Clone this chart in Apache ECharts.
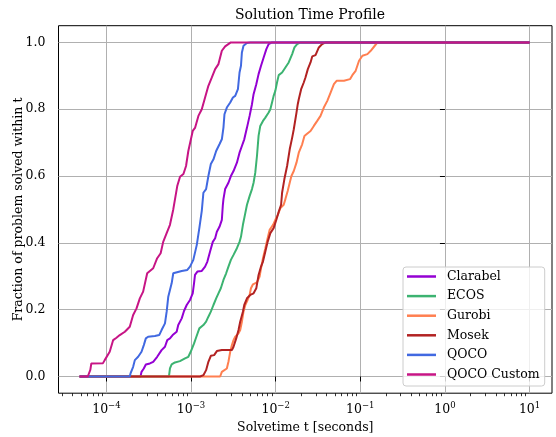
<!DOCTYPE html>
<html>
<head>
<meta charset="utf-8">
<script src="https://cdn.jsdelivr.net/npm/echarts@6/dist/echarts.min.js"></script>
<style>
  html, body { margin: 0; padding: 0; background: #fff; }
  #profile-chart { width: 556px; height: 437px; }
</style>
</head>
<body>
<div id="profile-chart"></div>
<script>
// points are [log10(solvetime in s), fraction solved]
const clarabel = [[-4.317, 0], [-3.597, 0], [-3.585, 0.014], [-3.558, 0.024], [-3.534, 0.036], [-3.486, 0.039], [-3.447, 0.044], [-3.4, 0.059], [-3.348, 0.079], [-3.308, 0.089], [-3.281, 0.109], [-3.249, 0.114], [-3.217, 0.124], [-3.17, 0.134], [-3.151, 0.154], [-3.11, 0.174], [-3.083, 0.196], [-3.051, 0.214], [-3.012, 0.229], [-2.98, 0.249], [-2.964, 0.28], [-2.953, 0.304], [-2.925, 0.314], [-2.873, 0.316], [-2.834, 0.329], [-2.807, 0.344], [-2.775, 0.374], [-2.743, 0.403], [-2.715, 0.414], [-2.695, 0.433], [-2.664, 0.448], [-2.636, 0.469], [-2.624, 0.514], [-2.617, 0.531], [-2.597, 0.561], [-2.558, 0.58], [-2.529, 0.6], [-2.498, 0.615], [-2.458, 0.64], [-2.427, 0.67], [-2.399, 0.69], [-2.371, 0.71], [-2.339, 0.745], [-2.308, 0.78], [-2.28, 0.815], [-2.261, 0.845], [-2.229, 0.875], [-2.202, 0.905], [-2.173, 0.93], [-2.142, 0.955], [-2.11, 0.98], [-2.083, 0.995], [-2.043, 1], [1, 1]];
const ecos = [[-4.317, 0], [-3.261, 0], [-3.249, 0.024], [-3.229, 0.036], [-3.19, 0.042], [-3.131, 0.046], [-3.071, 0.054], [-3.032, 0.059], [-3.004, 0.074], [-2.964, 0.099], [-2.941, 0.116], [-2.902, 0.144], [-2.893, 0.149], [-2.854, 0.154], [-2.822, 0.164], [-2.795, 0.179], [-2.766, 0.194], [-2.735, 0.214], [-2.703, 0.234], [-2.676, 0.249], [-2.648, 0.264], [-2.617, 0.289], [-2.585, 0.309], [-2.558, 0.329], [-2.529, 0.349], [-2.498, 0.364], [-2.458, 0.384], [-2.427, 0.403], [-2.41, 0.418], [-2.387, 0.454], [-2.359, 0.489], [-2.339, 0.514], [-2.308, 0.54], [-2.28, 0.561], [-2.261, 0.58], [-2.241, 0.61], [-2.221, 0.66], [-2.202, 0.72], [-2.182, 0.75], [-2.15, 0.765], [-2.122, 0.775], [-2.083, 0.79], [-2.063, 0.8], [-2.043, 0.82], [-2.024, 0.84], [-2.004, 0.855], [-1.984, 0.88], [-1.964, 0.902], [-1.924, 0.91], [-1.885, 0.925], [-1.846, 0.94], [-1.805, 0.965], [-1.778, 0.985], [-1.746, 0.995], [-1.707, 1], [1, 1]];
const gurobi = [[-4.317, 0], [-2.656, 0], [-2.636, 0.014], [-2.617, 0.019], [-2.577, 0.024], [-2.558, 0.044], [-2.537, 0.074], [-2.517, 0.094], [-2.498, 0.109], [-2.478, 0.119], [-2.439, 0.129], [-2.419, 0.139], [-2.399, 0.164], [-2.38, 0.194], [-2.359, 0.214], [-2.332, 0.229], [-2.308, 0.244], [-2.292, 0.264], [-2.268, 0.276], [-2.221, 0.282], [-2.19, 0.299], [-2.173, 0.324], [-2.15, 0.354], [-2.122, 0.384], [-2.095, 0.414], [-2.071, 0.439], [-2.031, 0.454], [-2.004, 0.469], [-1.976, 0.483], [-1.944, 0.504], [-1.905, 0.514], [-1.885, 0.531], [-1.858, 0.555], [-1.834, 0.58], [-1.814, 0.6], [-1.786, 0.615], [-1.754, 0.64], [-1.727, 0.67], [-1.687, 0.695], [-1.66, 0.72], [-1.636, 0.725], [-1.588, 0.735], [-1.549, 0.75], [-1.509, 0.765], [-1.47, 0.78], [-1.431, 0.805], [-1.39, 0.825], [-1.351, 0.85], [-1.312, 0.875], [-1.28, 0.885], [-1.193, 0.885], [-1.122, 0.89], [-1.094, 0.902], [-1.055, 0.915], [-1.015, 0.945], [-0.975, 0.96], [-0.916, 0.965], [-0.877, 0.975], [-0.829, 0.99], [-0.797, 1], [1, 1]];
const mosek = [[-4.317, 0], [-2.893, 0], [-2.854, 0.004], [-2.822, 0.019], [-2.795, 0.044], [-2.766, 0.062], [-2.727, 0.064], [-2.695, 0.076], [-2.636, 0.079], [-2.517, 0.079], [-2.498, 0.089], [-2.466, 0.114], [-2.439, 0.139], [-2.419, 0.164], [-2.387, 0.194], [-2.371, 0.214], [-2.339, 0.234], [-2.3, 0.244], [-2.261, 0.249], [-2.229, 0.264], [-2.202, 0.304], [-2.173, 0.329], [-2.15, 0.344], [-2.122, 0.374], [-2.095, 0.403], [-2.063, 0.429], [-2.024, 0.444], [-1.992, 0.469], [-1.964, 0.493], [-1.936, 0.514], [-1.924, 0.55], [-1.897, 0.591], [-1.865, 0.63], [-1.834, 0.68], [-1.805, 0.715], [-1.786, 0.74], [-1.754, 0.79], [-1.739, 0.815], [-1.727, 0.83], [-1.699, 0.86], [-1.668, 0.88], [-1.648, 0.895], [-1.62, 0.92], [-1.588, 0.94], [-1.568, 0.958], [-1.529, 0.962], [-1.49, 0.985], [-1.45, 0.995], [-1.41, 1], [1, 1]];
const qoco = [[-4.317, 0], [-3.724, 0], [-3.715, 0.009], [-3.684, 0.029], [-3.664, 0.049], [-3.625, 0.059], [-3.585, 0.074], [-3.558, 0.094], [-3.534, 0.114], [-3.507, 0.119], [-3.427, 0.121], [-3.376, 0.124], [-3.348, 0.139], [-3.308, 0.159], [-3.288, 0.194], [-3.269, 0.239], [-3.249, 0.259], [-3.229, 0.279], [-3.21, 0.309], [-3.19, 0.314], [-3.11, 0.316], [-3.044, 0.319], [-3.012, 0.329], [-2.973, 0.349], [-2.932, 0.394], [-2.902, 0.444], [-2.873, 0.496], [-2.854, 0.55], [-2.822, 0.561], [-2.795, 0.6], [-2.766, 0.636], [-2.735, 0.65], [-2.703, 0.675], [-2.664, 0.695], [-2.636, 0.71], [-2.617, 0.745], [-2.605, 0.785], [-2.577, 0.805], [-2.537, 0.82], [-2.505, 0.835], [-2.478, 0.84], [-2.446, 0.86], [-2.427, 0.91], [-2.41, 0.93], [-2.399, 0.97], [-2.38, 0.99], [-2.34, 0.998], [-2.3, 1], [1, 1]];
const qocoCustom = [[-4.317, 0], [-4.22, 0], [-4.19, 0.02], [-4.178, 0.039], [-4.04, 0.04], [-4.02, 0.049], [-3.961, 0.074], [-3.92, 0.109], [-3.881, 0.116], [-3.842, 0.124], [-3.782, 0.134], [-3.724, 0.149], [-3.684, 0.184], [-3.644, 0.204], [-3.605, 0.234], [-3.566, 0.254], [-3.518, 0.309], [-3.486, 0.316], [-3.447, 0.324], [-3.4, 0.354], [-3.359, 0.369], [-3.329, 0.403], [-3.288, 0.429], [-3.249, 0.454], [-3.21, 0.5], [-3.163, 0.57], [-3.13, 0.598], [-3.09, 0.606], [-3.059, 0.63], [-3.032, 0.675], [-2.98, 0.735], [-2.953, 0.744], [-2.913, 0.78], [-2.873, 0.8], [-2.834, 0.835], [-2.795, 0.87], [-2.754, 0.895], [-2.715, 0.92], [-2.676, 0.935], [-2.636, 0.975], [-2.597, 0.988], [-2.53, 1], [1, 1]];

const solverNames = ["Clarabel", "ECOS", "Gurobi", "Mosek", "QOCO", "QOCO Custom"];
const solverColors = ["#9400d3", "#3cb371", "#ff7f50", "#b22222", "#4169e1", "#c71585"];
const solverData = [clarabel, ecos, gurobi, mosek, qoco, qocoCustom];

const xDecades = [-4, -3, -2, -1, 0, 1];
const yTicks = [0, 0.2, 0.4, 0.6, 0.8, 1.0];
const xMin = -4.566, xMax = 1.265;

// minor log ticks (2..9 x 10^n) inside the visible range
const xMinor = [];
for (let n = -5; n <= 1; n++) {
  for (let k = 2; k <= 9; k++) {
    const v = n + Math.log10(k);
    if (v > xMin && v < xMax) xMinor.push(v);
  }
}

const FONT = "DejaVu Serif";
const chart = echarts.init(document.getElementById("profile-chart"));

const option = {
  animation: false,
  textStyle: { fontFamily: FONT },
  title: {
    text: "Solution Time Profile",
    left: 305,
    textAlign: "center",
    top: 3,
    textStyle: { fontFamily: FONT, fontSize: 14, fontWeight: "normal", color: "#000" },
  },
  grid: {
    left: 58.5,
    right: 4,
    top: 25.7,
    bottom: 43.8,
    containLabel: false,
    outerBoundsMode: "none",
    show: true,
    borderColor: "#000",
    borderWidth: 1,
    backgroundColor: "transparent",
  },
  legend: {
    orient: "vertical",
    left: 403,
    top: 267,
    padding: [2, 5, 4, 4],
    itemWidth: 29,
    itemHeight: 15,
    itemGap: 4.6,
    icon: "path://M0,0L29,0L29,2.5L0,2.5Z",
    backgroundColor: "rgba(255,255,255,0.8)",
    borderColor: "#cccccc",
    borderWidth: 1,
    borderRadius: 3,
    textStyle: { fontFamily: FONT, fontSize: 12.5, lineHeight: 15, color: "#000", padding: [0, 0, 0, 6] },
    data: solverNames,
  },
  xAxis: [
    {
      type: "value",
      min: xMin,
      max: xMax,
      name: "Solvetime t [seconds]",
      nameLocation: "middle",
      nameGap: 28,
      nameTextStyle: { fontFamily: FONT, fontSize: 12.5, color: "#000" },
      axisLine: { show: false },
      axisTick: { show: true, length: 5, customValues: xDecades, lineStyle: { color: "#000", width: 1 } },
      axisLabel: {
        customValues: xDecades,
        margin: 8,
        color: "#000",
        formatter: (v) => "{b|10}{s|" + (v < 0 ? "\u2212" : "") + Math.abs(v) + "}",
        rich: {
          b: { fontFamily: FONT, fontSize: 12.5, color: "#000" },
          s: { fontFamily: FONT, fontSize: 8.5, color: "#000", padding: [0, 0, 8, 0] },
        },
      },
      splitLine: { show: true, lineStyle: { color: "#b0b0b0", width: 1 } },
    },
    {
      type: "value",
      min: xMin,
      max: xMax,
      position: "bottom",
      axisLine: { show: false },
      axisLabel: { show: false },
      splitLine: { show: false },
      axisTick: { show: true, length: 3, customValues: xMinor, lineStyle: { color: "#000", width: 0.8 } },
    },
  ],
  yAxis: {
    type: "value",
    min: -0.05,
    max: 1.05,
    name: "Fraction of problem solved within t",
    nameLocation: "middle",
    nameGap: 33,
    nameMoveOverlap: false,
    nameTextStyle: { fontFamily: FONT, fontSize: 12.5, color: "#000" },
    axisLine: { show: false },
    axisTick: { show: true, length: 5, customValues: yTicks, lineStyle: { color: "#000", width: 1 } },
    axisLabel: {
      customValues: yTicks,
      margin: 13,
      color: "#000",
      fontFamily: FONT,
      fontSize: 12.5,
      formatter: (v) => v.toFixed(1),
    },
    splitLine: { show: true, lineStyle: { color: "#b0b0b0", width: 1 } },
  },
  series: solverNames.map((name, i) => ({
    name: name,
    type: "line",
    data: solverData[i],
    symbol: "none",
    lineStyle: { color: solverColors[i], width: 2 },
    itemStyle: { color: solverColors[i] },
    z: 2 + i,
  })),
};

chart.setOption(option);
</script>
</body>
</html>
